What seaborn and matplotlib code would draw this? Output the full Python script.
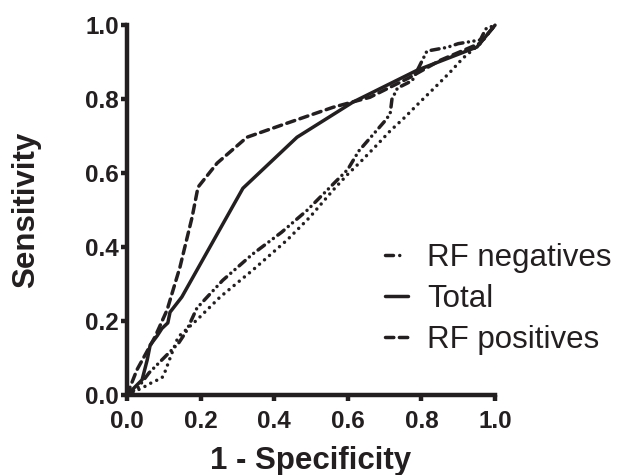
import numpy as np
import pandas as pd
import matplotlib
matplotlib.use("Agg")
import matplotlib.pyplot as plt
import seaborn as sns
from matplotlib.lines import Line2D

# ROC curves
neg_fpr = [0, 0.03, 0.06, 0.10, 0.14, 0.16, 0.19, 0.26, 0.34, 0.42, 0.49, 0.57,
           0.60, 0.63, 0.70, 0.715, 0.72, 0.735, 0.775, 0.79, 0.815, 0.87, 0.90,
           0.96, 0.975, 1.0]
neg_tpr = [0, 0.02, 0.06, 0.10, 0.14, 0.17, 0.235, 0.31, 0.38, 0.44, 0.50, 0.58,
           0.61, 0.66, 0.74, 0.76, 0.80, 0.83, 0.85, 0.88, 0.93, 0.94, 0.95,
           0.96, 0.99, 1.0]

tot_fpr = [0, 0.015, 0.041, 0.055, 0.063, 0.082, 0.095, 0.111, 0.117, 0.149,
           0.315, 0.462, 0.614, 0.788, 0.951, 1.0]
tot_tpr = [0, 0.015, 0.041, 0.095, 0.135, 0.16, 0.18, 0.195, 0.224, 0.265,
           0.559, 0.697, 0.792, 0.878, 0.941, 1.0]

pos_fpr = [0, 0.027, 0.076, 0.109, 0.144, 0.177, 0.193, 0.245, 0.326, 0.435,
           0.56, 0.66, 0.769, 0.851, 0.959, 1.0]
pos_tpr = [0, 0.068, 0.157, 0.23, 0.346, 0.481, 0.562, 0.627, 0.697, 0.735,
           0.778, 0.805, 0.859, 0.905, 0.951, 1.0]

# unlabeled dotted curve
dot_fpr = [0, 0.043, 0.07, 0.095, 0.103, 0.122, 0.139, 0.19, 0.253, 0.342,
           0.435, 0.497, 0.56, 0.598, 0.639, 0.679, 0.715, 0.755, 0.796, 0.837,
           0.878, 0.913, 0.932, 0.96, 1.0]
dot_tpr = [0, 0.02, 0.035, 0.046, 0.062, 0.113, 0.157, 0.203, 0.265, 0.338,
           0.419, 0.481, 0.554, 0.595, 0.635, 0.676, 0.714, 0.751, 0.792, 0.832,
           0.873, 0.911, 0.927, 0.95, 1.0]

labels = ["RF negatives", "Total", "RF positives"]
ticks = [0.0, 0.2, 0.4, 0.6, 0.8, 1.0]


def main():
    sns.set_theme(style="white")
    plt.rcParams["font.family"] = ["Liberation Sans", "DejaVu Sans"]
    ink = "#231f20"

    fig, ax = plt.subplots(figsize=(6.17, 4.75), dpi=100)
    fig.subplots_adjust(left=0.2058, right=0.8023, bottom=0.1684, top=0.947)

    lw = 2.5
    styles = {
        "RF negatives": (0, (2.3, 1.6, 0.01, 1.6, 0.01, 1.6)),
        "Total": "-",
        "RF positives": (0, (2.4, 1.6)),
        "dotted": (0, (0.01, 1.9)),
    }
    # the legend only shows "- ." for the dash-dot series
    legend_styles = dict(styles)
    legend_styles["RF negatives"] = (0, (2.3, 1.8, 0.01, 4))

    curves = [
        ("RF negatives", neg_fpr, neg_tpr),
        ("Total", tot_fpr, tot_tpr),
        ("RF positives", pos_fpr, pos_tpr),
        ("dotted", dot_fpr, dot_tpr),
    ]
    for name, xs, ys in curves:
        df = pd.DataFrame({"fpr": xs, "tpr": ys})
        sns.lineplot(data=df, x="fpr", y="tpr", ax=ax, sort=False, estimator=None,
                     color=ink, linewidth=lw, linestyle=styles[name],
                     dash_capstyle="round", clip_on=False, legend=False)

    ax.set_xlim(0, 1)
    ax.set_ylim(0, 1)
    ax.set_xticks(ticks)
    ax.set_yticks(ticks)
    ax.set_xticklabels([f"{v:.1f}" for v in ticks])
    ax.set_yticklabels([f"{v:.1f}" for v in ticks])
    for lab in ax.get_xticklabels() + ax.get_yticklabels():
        lab.set_fontweight("bold")
        lab.set_fontsize(17.5)
        lab.set_color(ink)

    sns.despine(ax=ax)
    for side in ["left", "bottom"]:
        ax.spines[side].set_linewidth(3.2)
        ax.spines[side].set_color(ink)
    ax.tick_params(axis="both", which="major", direction="out", length=4,
                   width=3.2, color=ink, bottom=True, left=True)
    ax.tick_params(axis="x", pad=7)
    ax.tick_params(axis="y", pad=2)

    ax.set_xlabel("1 - Specificity", fontsize=22.5, fontweight="bold", color=ink)
    ax.set_ylabel("Sensitivity", fontsize=22.5, fontweight="bold", color=ink)
    ax.xaxis.set_label_coords(0.5, -0.137)
    ax.yaxis.set_label_coords(-0.232, 0.5)

    handles = [Line2D([0], [0], color=ink, lw=lw, linestyle=legend_styles[n],
                      dash_capstyle="round") for n in labels]
    leg = ax.legend(handles, labels, loc="upper left", bbox_to_anchor=(0.70, 0.411),
                    frameon=False, fontsize=22.5, handlelength=0.75,
                    handletextpad=0.6, borderpad=0, borderaxespad=0,
                    labelspacing=0.35)
    for t in leg.get_texts():
        t.set_color(ink)

    fig.savefig("out.png", dpi=100, facecolor="white")
    plt.close(fig)


if __name__ == "__main__":
    main()
